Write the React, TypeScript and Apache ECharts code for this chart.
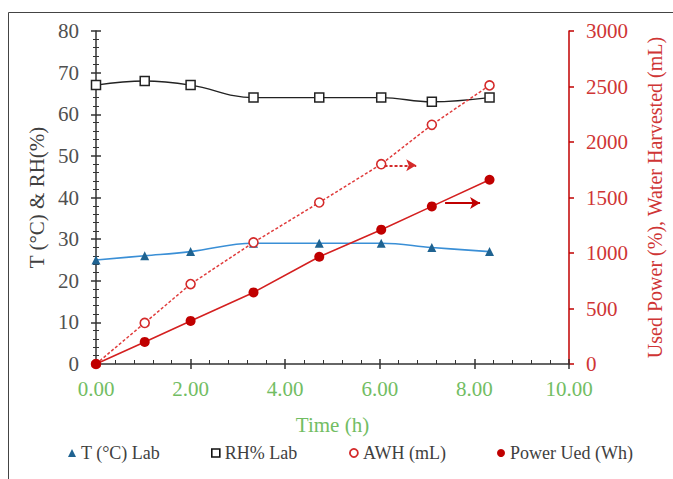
import React, { useEffect, useRef } from "react";
import * as echarts from "echarts";

const timeH = [0, 1.03, 2.0, 3.33, 4.72, 6.03, 7.1, 8.32];
const tempLab = [25, 26, 27, 29, 29, 29, 28, 27];
const rhLab = [67, 68, 67, 64, 64, 64, 63, 64];
const awh = [0, 370, 720, 1095, 1455, 1800, 2155, 2510];
const powerUsed = [0, 199, 388, 645, 966, 1210, 1420, 1660];

const awhArrow = [[6.1, 1790], [6.77, 1790]];
const powerArrow = [[7.38, 1450], [8.12, 1450]];

const legendNames = ["T (°C) Lab", "RH% Lab", "AWH (mL)", "Power Ued (Wh)"];

const FONT = "'Liberation Serif', 'Times New Roman', serif";
const GREEN = "#72bd63";
const RED_AXIS = "#c00000";
const RED_TEXT = "#cf3535";
const GREY_TEXT = "#505050";

const pair = (xs: number[], ys: number[]) => xs.map((x, i) => [x, ys[i]]);

export default function App() {
  const ref = useRef<HTMLDivElement>(null);
  useEffect(() => {
    if (!ref.current) return;
    const chart = echarts.init(ref.current, null, { renderer: "svg" });
    const legendCommon = {
      top: 444,
      padding: 0,
      itemWidth: 8,
      itemHeight: 8,
      textStyle: { fontFamily: FONT, fontSize: 18, color: "#404040" },
      selectedMode: false,
    };
    chart.setOption({
      animation: false,
      backgroundColor: "#fff",
      grid: { left: 96, right: 94, top: 31, bottom: 115, containLabel: false },
      graphic: [
        {
          type: "rect",
          silent: true,
          z: -10,
          shape: { x: 8.5, y: 12.5, width: 700, height: 500 },
          style: { fill: "none", stroke: "#444", lineWidth: 1 },
        },
      ],
      legend: [
        { ...legendCommon, left: 68, data: [{ name: legendNames[0], icon: "triangle", itemStyle: { color: "#1f6391" } }] },
        { ...legendCommon, left: 211, data: [{ name: legendNames[1], icon: "rect", itemStyle: { color: "#fff", borderColor: "#111", borderWidth: 1.6 } }] },
        { ...legendCommon, left: 349, data: [{ name: legendNames[2], icon: "circle", itemStyle: { color: "#fff", borderColor: "#d42a2a", borderWidth: 1.8 } }] },
        { ...legendCommon, left: 497, data: [{ name: legendNames[3], icon: "circle", itemStyle: { color: "#c00000", borderWidth: 0 } }] },
      ],
      xAxis: [
        {
          type: "value",
          min: 0,
          max: 10,
          interval: 2,
          position: "bottom",
          name: "Time (h)",
          nameLocation: "middle",
          nameGap: 50,
          nameTextStyle: { fontFamily: FONT, fontSize: 21, color: GREEN },
          axisLine: { show: true, onZero: false, lineStyle: { color: "#333", width: 1.5 } },
          axisTick: { show: true, inside: false, length: 5, lineStyle: { color: "#333", width: 1.5 } },
          axisLabel: { margin: 14, fontFamily: FONT, fontSize: 21, color: GREEN, formatter: (v: number) => v.toFixed(2) },
          splitLine: { show: false },
        },
        {
          type: "value",
          min: 0,
          max: 10,
          interval: 2,
          position: "bottom",
          axisLine: { show: false, onZero: false },
          axisTick: { show: true, inside: true, length: 5, lineStyle: { color: "#333", width: 1.5 } },
          minorTick: { show: true, splitNumber: 5, length: 4, lineStyle: { color: "#333", width: 1 } },
          axisLabel: { show: false },
          splitLine: { show: false },
        },
      ],
      yAxis: [
        {
          type: "value",
          min: 0,
          max: 80,
          interval: 10,
          position: "left",
          name: "T (°C) & RH(%)",
          nameLocation: "middle",
          nameRotate: 90,
          nameGap: 46,
          nameTextStyle: { fontFamily: FONT, fontSize: 21, color: "#404040" },
          axisLine: { show: true, onZero: false, lineStyle: { color: "#333", width: 1.5 } },
          axisTick: { show: true, inside: false, length: 5, lineStyle: { color: "#333", width: 1.5 } },
          minorTick: { show: true, splitNumber: 5, length: 3, lineStyle: { color: "#333", width: 1 } },
          axisLabel: { margin: 17, fontFamily: FONT, fontSize: 21, color: GREY_TEXT },
          splitLine: { show: false },
        },
        {
          type: "value",
          min: 0,
          max: 3000,
          interval: 500,
          position: "right",
          name: "Used Power (%), Water Harvested (mL)",
          nameLocation: "middle",
          nameRotate: 90,
          nameGap: 76,
          nameTextStyle: { fontFamily: FONT, fontSize: 20, color: RED_TEXT },
          axisLine: { show: true, onZero: false, lineStyle: { color: RED_AXIS, width: 1.5 } },
          axisTick: { show: true, inside: false, length: 5, lineStyle: { color: RED_AXIS, width: 1.5 } },
          axisLabel: { margin: 17, fontFamily: FONT, fontSize: 21, color: RED_TEXT, formatter: (v: number) => String(v) },
          splitLine: { show: false },
        },
        {
          type: "value",
          min: 0,
          max: 80,
          interval: 10,
          position: "left",
          axisLine: { show: false, onZero: false },
          axisTick: { show: true, inside: true, length: 5, lineStyle: { color: "#333", width: 1.5 } },
          minorTick: { show: true, splitNumber: 5, length: 3, lineStyle: { color: "#333", width: 1 } },
          axisLabel: { show: false },
          splitLine: { show: false },
        },
      ],
      series: [
        {
          name: legendNames[0],
          type: "line",
          xAxisIndex: 0,
          yAxisIndex: 0,
          data: pair(timeH, tempLab),
          smooth: 0.4,
          symbol: "triangle",
          symbolSize: 9,
          lineStyle: { color: "#3a8fd6", width: 1.6 },
          itemStyle: { color: "#1f6391" },
          z: 3,
        },
        {
          name: legendNames[1],
          type: "line",
          xAxisIndex: 0,
          yAxisIndex: 0,
          data: pair(timeH, rhLab),
          smooth: 0.4,
          symbol: "rect",
          symbolSize: 9,
          lineStyle: { color: "#222", width: 1.4 },
          itemStyle: { color: "#fff", borderColor: "#222", borderWidth: 1.5 },
          z: 3,
        },
        {
          name: legendNames[2],
          type: "line",
          xAxisIndex: 0,
          yAxisIndex: 1,
          data: pair(timeH, awh),
          symbol: "circle",
          symbolSize: 9,
          lineStyle: { color: "#e03c3c", width: 1.5, type: [3, 2] },
          itemStyle: { color: "#fff", borderColor: "#d42a2a", borderWidth: 1.6 },
          z: 4,
          markLine: {
            silent: true,
            symbol: ["none", "arrow"],
            symbolSize: [9, 10],
            label: { show: false },
            lineStyle: { color: "#d42a2a", width: 2, type: [3, 2] },
            data: [[{ coord: awhArrow[0] }, { coord: awhArrow[1] }]],
          },
        },
        {
          name: legendNames[3],
          type: "line",
          xAxisIndex: 0,
          yAxisIndex: 1,
          data: pair(timeH, powerUsed),
          symbol: "circle",
          symbolSize: 10,
          lineStyle: { color: "#d42020", width: 1.6 },
          itemStyle: { color: "#c00000" },
          z: 5,
          markLine: {
            silent: true,
            symbol: ["none", "arrow"],
            symbolSize: [9, 10],
            label: { show: false },
            lineStyle: { color: "#c00000", width: 2, type: "solid" },
            data: [[{ coord: powerArrow[0] }, { coord: powerArrow[1] }]],
          },
        },
      ],
    });
    return () => chart.dispose();
  }, []);
  return (
    <div
      ref={ref}
      style={{ position: "fixed", left: 0, top: 0, width: 673, height: 479, background: "#fff" }}
    />
  );
}
